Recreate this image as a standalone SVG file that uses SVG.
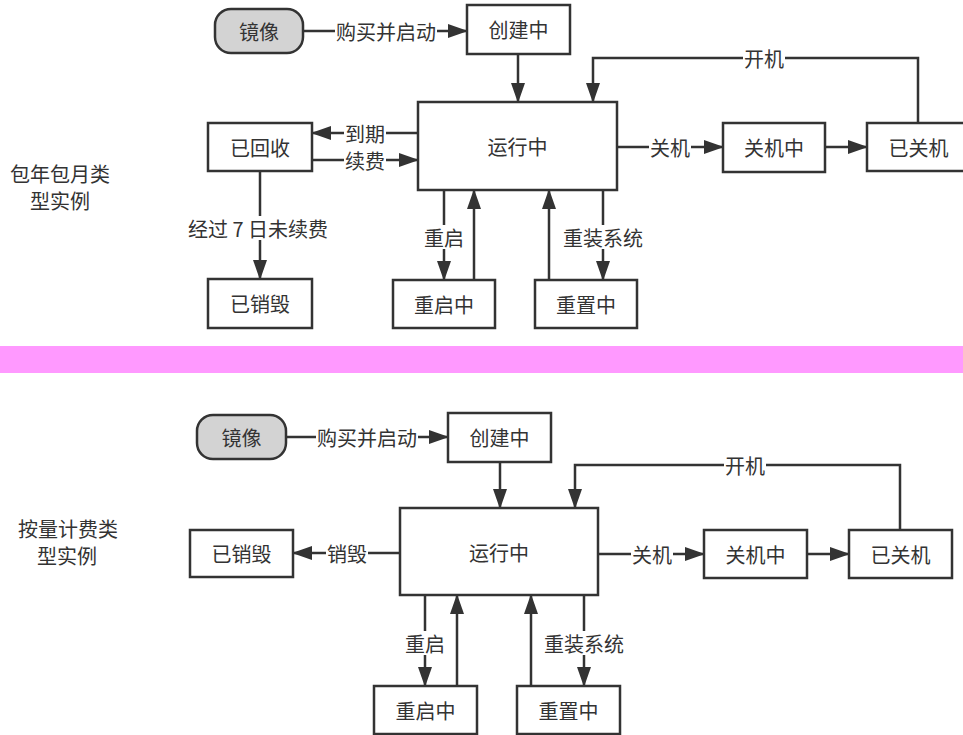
<svg xmlns="http://www.w3.org/2000/svg" width="963" height="735" viewBox="0 0 963 735">
<style>
text{font-family:"Noto Sans CJK SC","Microsoft YaHei",sans-serif;font-size:20px;fill:#333;text-anchor:middle;dominant-baseline:central}
.box{fill:#fff;stroke:#333;stroke-width:2.5}
.img{fill:#d3d3d3;stroke:#333;stroke-width:2.5}
.ln{fill:none;stroke:#333;stroke-width:2.5}
.ar{marker-end:url(#ah)}
.bg{fill:#fff}
</style>
<defs>
<marker id="ah" markerUnits="userSpaceOnUse" viewBox="0 0 20 14" refX="19" refY="7" markerWidth="20" markerHeight="14" orient="auto">
<path d="M0,0 L20,7 L0,14 z" fill="#333"/>
</marker>
</defs>
<rect width="963" height="735" fill="#fff"/>
<rect x="0" y="346" width="963" height="27" fill="#ff99ff"/>
<g id="caption-top"><text x="60" y="173">包年包月类</text><text x="60" y="200">型实例</text></g>
<g id="caption-bottom"><text x="68" y="528">按量计费类</text><text x="67" y="555">型实例</text></g>
<g id="connectors">
<line class="ln ar" x1="303" y1="31" x2="467" y2="31"/>
<rect class="bg" x="335" y="20" width="102" height="22"/><text x="386" y="31">购买并启动</text>
<line class="ln ar" x1="518" y1="54" x2="518" y2="102"/>
<line class="ln ar" x1="418" y1="133" x2="312" y2="133"/>
<rect class="bg" x="344" y="122" width="42" height="22"/><text x="365" y="133">到期</text>
<line class="ln ar" x1="312" y1="160" x2="418" y2="160"/>
<rect class="bg" x="344" y="149" width="42" height="22"/><text x="365" y="160">续费</text>
<line class="ln ar" x1="260" y1="171" x2="260" y2="279"/>
<rect class="bg" x="185" y="216" width="148" height="24"/><text x="258" y="228">经过 7 日未续费</text>
<line class="ln ar" x1="444" y1="190" x2="444" y2="280"/>
<rect class="bg" x="423" y="225" width="42" height="24"/><text x="444" y="237">重启</text>
<line class="ln ar" x1="474" y1="280" x2="474" y2="190"/>
<line class="ln ar" x1="549" y1="280" x2="549" y2="190"/>
<line class="ln ar" x1="603" y1="190" x2="603" y2="280"/>
<rect class="bg" x="562" y="225" width="82" height="24"/><text x="603" y="237">重装系统</text>
<line class="ln ar" x1="617" y1="147" x2="723" y2="147"/>
<rect class="bg" x="649" y="136" width="42" height="22"/><text x="670" y="147">关机</text>
<line class="ln ar" x1="825" y1="147" x2="867" y2="147"/>
<polyline class="ln ar" points="918,123 918,58 593,58 593,102"/>
<rect class="bg" x="743" y="47" width="42" height="22"/><text x="764" y="58">开机</text>

<line class="ln ar" x1="286" y1="437" x2="448" y2="437"/>
<rect class="bg" x="316" y="426" width="102" height="22"/><text x="367" y="437">购买并启动</text>
<line class="ln ar" x1="500" y1="462" x2="500" y2="508"/>
<line class="ln ar" x1="400" y1="553" x2="293" y2="553"/>
<rect class="bg" x="326" y="542" width="42" height="22"/><text x="347" y="553">销毁</text>
<line class="ln ar" x1="425" y1="595" x2="425" y2="686"/>
<rect class="bg" x="404" y="631" width="42" height="24"/><text x="425" y="643">重启</text>
<line class="ln ar" x1="457" y1="686" x2="457" y2="595"/>
<line class="ln ar" x1="531" y1="686" x2="531" y2="595"/>
<line class="ln ar" x1="584" y1="595" x2="584" y2="686"/>
<rect class="bg" x="543" y="631" width="82" height="24"/><text x="584" y="643">重装系统</text>
<line class="ln ar" x1="598" y1="554" x2="704" y2="554"/>
<rect class="bg" x="631" y="543" width="42" height="22"/><text x="652" y="554">关机</text>
<line class="ln ar" x1="807" y1="554" x2="849" y2="554"/>
<polyline class="ln ar" points="900,530 900,465 575,465 575,508"/>
<rect class="bg" x="724" y="454" width="42" height="22"/><text x="745" y="465">开机</text>
</g>
<g id="t-image"><rect class="img" x="215" y="9" width="88" height="44" rx="16"/><text x="259" y="31">镜像</text></g>
<g id="t-creating"><rect class="box" x="467" y="5" width="103" height="49"/><text x="518.5" y="29.5">创建中</text></g>
<g id="t-running"><rect class="box" x="418" y="102" width="199" height="88"/><text x="517.5" y="146">运行中</text></g>
<g id="t-recycled"><rect class="box" x="208" y="123" width="104" height="48"/><text x="260" y="147">已回收</text></g>
<g id="t-destroyed"><rect class="box" x="208" y="279" width="104" height="49"/><text x="260" y="303.5">已销毁</text></g>
<g id="t-rebooting"><rect class="box" x="393" y="280" width="102" height="48"/><text x="444" y="304">重启中</text></g>
<g id="t-resetting"><rect class="box" x="535" y="280" width="102" height="48"/><text x="586" y="304">重置中</text></g>
<g id="t-stopping"><rect class="box" x="723" y="123" width="102" height="49"/><text x="774" y="147.5">关机中</text></g>
<g id="t-stopped"><rect class="box" x="867" y="123" width="103" height="48"/><text x="918.5" y="147">已关机</text></g>

<g id="b-image"><rect class="img" x="197" y="415" width="89" height="44" rx="16"/><text x="241.5" y="437">镜像</text></g>
<g id="b-creating"><rect class="box" x="448" y="413" width="103" height="49"/><text x="499.5" y="437.5">创建中</text></g>
<g id="b-running"><rect class="box" x="400" y="508" width="198" height="87"/><text x="499" y="552">运行中</text></g>
<g id="b-destroyed"><rect class="box" x="190" y="530" width="103" height="47"/><text x="241.5" y="553.5">已销毁</text></g>
<g id="b-rebooting"><rect class="box" x="374" y="686" width="103" height="48"/><text x="425.5" y="710">重启中</text></g>
<g id="b-resetting"><rect class="box" x="517" y="686" width="103" height="48"/><text x="568.5" y="710">重置中</text></g>
<g id="b-stopping"><rect class="box" x="704" y="530" width="103" height="48"/><text x="755.5" y="554">关机中</text></g>
<g id="b-stopped"><rect class="box" x="849" y="530" width="103" height="48"/><text x="900.5" y="554">已关机</text></g>
</svg>
